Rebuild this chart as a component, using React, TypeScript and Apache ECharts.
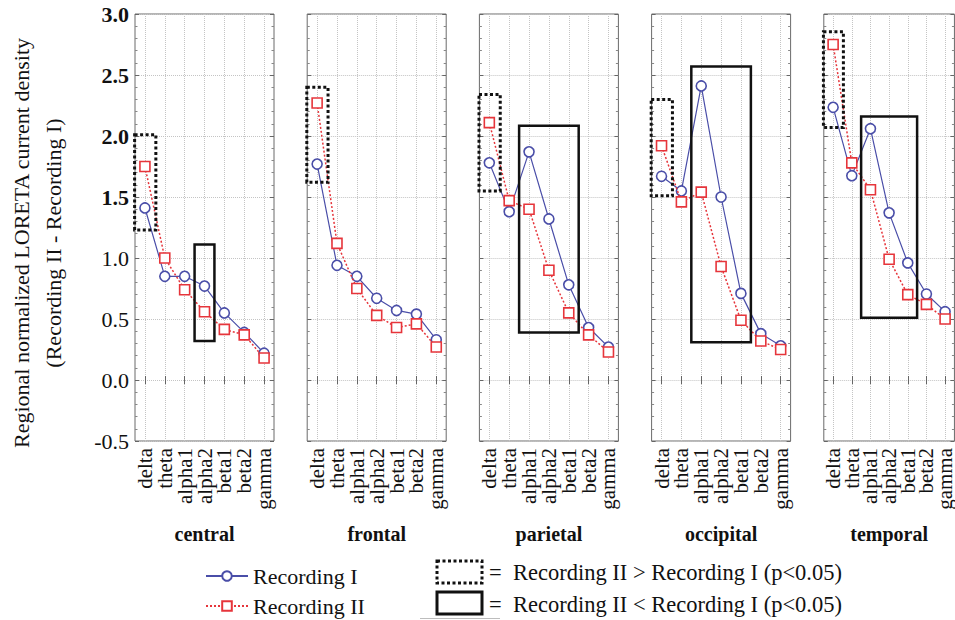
import React, { useEffect, useRef } from 'react';
import * as echarts from 'echarts';

const bands = ['delta', 'theta', 'alpha1', 'alpha2', 'beta1', 'beta2', 'gamma'];
const regions = ['central', 'frontal', 'parietal', 'occipital', 'temporal'];
const yTicks = [-0.5, 0, 0.5, 1.0, 1.5, 2.0, 2.5, 3.0];

// one row per region, one value per band
const recordingI = [
  [1.41, 0.85, 0.85, 0.77, 0.55, 0.39, 0.22],
  [1.77, 0.94, 0.85, 0.67, 0.57, 0.54, 0.33],
  [1.78, 1.38, 1.87, 1.32, 0.78, 0.43, 0.27],
  [1.67, 1.55, 2.41, 1.5, 0.71, 0.38, 0.28],
  [2.235, 1.675, 2.06, 1.37, 0.96, 0.705, 0.56],
];
const recordingII = [
  [1.75, 1.0, 0.74, 0.56, 0.415, 0.37, 0.18],
  [2.27, 1.12, 0.75, 0.53, 0.43, 0.46, 0.27],
  [2.11, 1.47, 1.4, 0.9, 0.55, 0.37, 0.23],
  [1.92, 1.46, 1.54, 0.93, 0.49, 0.32, 0.25],
  [2.75, 1.78, 1.56, 0.99, 0.7, 0.62, 0.5],
];

// significance boxes: [region, first band, last band, low, high]
const increaseBoxes = [
  [0, 0, 0, 1.23, 2.01],
  [1, 0, 0, 1.62, 2.4],
  [2, 0, 0, 1.55, 2.34],
  [3, 0, 0, 1.51, 2.3],
  [4, 0, 0, 2.07, 2.855],
];
const decreaseBoxes = [
  [0, 3, 3, 0.32, 1.11],
  [2, 2, 4, 0.39, 2.085],
  [3, 2, 4, 0.31, 2.57],
  [4, 2, 4, 0.51, 2.16],
];

const SERIF = "'Liberation Serif', 'Times New Roman', serif";
const BLUE = '#4a4ea8';
const RED = '#e6353b';

export default function App() {
  const ref = useRef<HTMLDivElement>(null);

  useEffect(() => {
    if (!ref.current) return;
    const chart = echarts.init(ref.current, null, { renderer: 'svg' });
    const yMin = yTicks[0];
    const yMax = yTicks[yTicks.length - 1];
    const yStep = yTicks[1] - yTicks[0];

    const grids: any[] = [];
    const xAxes: any[] = [];
    const yAxes: any[] = [];
    const series: any[] = [];

    regions.forEach((region, i) => {
      grids.push({
        left: 135 + i * 172.2,
        top: 14,
        width: 139,
        height: 427,
        show: true,
        borderColor: '#6a6a6a',
        borderWidth: 1,
        backgroundColor: 'transparent',
      });
      xAxes.push({
        type: 'category',
        gridIndex: i,
        position: 'bottom',
        data: bands,
        boundaryGap: true,
        axisLine: { show: false },
        axisTick: { show: true, inside: true, length: 4, alignWithLabel: true, interval: 0, lineStyle: { color: '#666' } },
        axisLabel: {
          interval: 0,
          rotate: 90,
          margin: 7,
          fontSize: 21,
          fontFamily: SERIF,
          color: '#111',
        },
        splitLine: {
          show: true,
          interval: 0,
          alignWithLabel: true,
          lineStyle: { type: 'dotted', color: '#c4c4c4', width: 1 },
        },
        name: region,
        nameLocation: 'middle',
        nameGap: 83,
        nameTextStyle: { fontSize: 20, fontWeight: 'bold', fontFamily: SERIF, color: '#111' },
      });
      xAxes.push({
        type: 'category',
        gridIndex: i,
        position: 'top',
        data: bands,
        boundaryGap: true,
        axisLine: { show: false },
        axisTick: { show: true, inside: true, length: 4, alignWithLabel: true, interval: 0, lineStyle: { color: '#666' } },
        axisLabel: { show: false },
        splitLine: { show: false },
      });
      yAxes.push({
        type: 'value',
        gridIndex: i,
        position: 'left',
        min: yMin,
        max: yMax,
        interval: yStep,
        axisLine: { show: false },
        axisTick: { show: true, inside: true, length: 4, lineStyle: { color: '#666' } },
        minorTick: { show: true, splitNumber: 5, length: 2.5, lineStyle: { color: '#888' } },
        axisLabel: {
          show: i === 0,
          margin: 6,
          fontSize: 22,
          fontFamily: SERIF,
          color: '#111',
          formatter: (v: number) => (v >= 1.5 ? `{b|${v.toFixed(1)}}` : v.toFixed(1)),
          rich: { b: { fontSize: 22, fontWeight: 'bold', fontFamily: SERIF, color: '#111' } },
        },
        splitLine: { show: true, lineStyle: { type: 'dotted', color: '#c4c4c4', width: 1 } },
      });
      yAxes.push({
        type: 'value',
        gridIndex: i,
        position: 'right',
        min: yMin,
        max: yMax,
        interval: yStep,
        axisLine: { show: false },
        axisTick: { show: true, inside: true, length: 4, lineStyle: { color: '#666' } },
        minorTick: { show: true, splitNumber: 5, length: 2.5, lineStyle: { color: '#888' } },
        axisLabel: { show: false },
        splitLine: { show: false },
      });

      const xi = i * 2;
      const yi = i * 2;
      series.push({
        name: 'Recording I',
        type: 'line',
        xAxisIndex: xi,
        yAxisIndex: yi,
        data: recordingI[i],
        symbol: 'circle',
        symbolSize: 10,
        lineStyle: { color: BLUE, width: 1.2, type: 'solid' },
        itemStyle: { color: '#fff', borderColor: BLUE, borderWidth: 1.6 },
        z: 3,
      });
      series.push({
        name: 'Recording II',
        type: 'line',
        xAxisIndex: xi,
        yAxisIndex: yi,
        data: recordingII[i],
        symbol: 'rect',
        symbolSize: 10,
        lineStyle: { color: RED, width: 1.5, type: [2, 2] },
        itemStyle: { color: '#fff', borderColor: RED, borderWidth: 1.6 },
        z: 4,
      });
      const boxData: any[] = [];
      increaseBoxes.filter((b) => b[0] === i).forEach((b) => {
        boxData.push([b[1], b[2], b[3], b[4], 1]);
      });
      decreaseBoxes.filter((b) => b[0] === i).forEach((b) => {
        boxData.push([b[1], b[2], b[3], b[4], 0]);
      });
      series.push({
        name: 'significance',
        type: 'custom',
        xAxisIndex: xi,
        yAxisIndex: yi,
        silent: true,
        clip: false,
        z: 5,
        encode: { x: [0, 1], y: [2, 3] },
        data: boxData,
        renderItem: (_params: any, api: any) => {
          const dotted = api.value(4) === 1;
          const band = api.size([1, 0])[0];
          const a = api.coord([api.value(0), api.value(3)]);
          const b = api.coord([api.value(1), api.value(2)]);
          const x0 = a[0] - band * (dotted ? 0.52 : 0.5);
          const x1 = b[0] + band * (dotted ? 0.55 : 0.5);
          return {
            type: 'rect',
            shape: { x: x0, y: a[1], width: x1 - x0, height: b[1] - a[1] },
            style: {
              fill: 'none',
              stroke: '#111',
              lineWidth: dotted ? 3 : 2.5,
              lineDash: dotted ? [3, 2.5] : null,
            },
          };
        },
      });
    });

    const legendText = { fontSize: 22, fontFamily: SERIF, color: '#111' };

    chart.setOption({
      animation: false,
      backgroundColor: '#fff',
      grid: grids,
      xAxis: xAxes,
      yAxis: yAxes,
      series,
      legend: [
        {
          data: ['Recording I'],
          left: 205,
          top: 565,
          itemWidth: 42,
          itemHeight: 12,
          padding: 0,
          textStyle: legendText,
        },
        {
          data: ['Recording II'],
          left: 205,
          top: 595,
          itemWidth: 42,
          itemHeight: 12,
          padding: 0,
          textStyle: legendText,
        },
      ],
      graphic: [
        {
          type: 'text',
          x: 37,
          y: 243,
          rotation: Math.PI / 2,
          style: {
            text: 'Regional normalized LORETA current density\n(Recording II - Recording I)',
            font: `22px ${SERIF}`,
            fill: '#111',
            align: 'center',
            verticalAlign: 'middle',
            lineHeight: 32,
          },
        },
        {
          type: 'rect',
          shape: { x: 437, y: 561, width: 45, height: 22 },
          style: { fill: 'none', stroke: '#111', lineWidth: 3, lineDash: [3, 2.5] },
        },
        {
          type: 'rect',
          shape: { x: 437, y: 592, width: 45, height: 22 },
          style: { fill: 'none', stroke: '#111', lineWidth: 3 },
        },
        {
          type: 'line',
          shape: { x1: 420, y1: 618.5, x2: 500, y2: 618.5 },
          style: { stroke: '#bdbdbd', lineWidth: 1 },
        },
        {
          type: 'text',
          x: 489,
          y: 572,
          style: { text: '=  Recording II > Recording I (p<0.05)', font: `22.5px ${SERIF}`, fill: '#111', verticalAlign: 'middle' },
        },
        {
          type: 'text',
          x: 489,
          y: 604,
          style: { text: '=  Recording II < Recording I (p<0.05)', font: `22.5px ${SERIF}`, fill: '#111', verticalAlign: 'middle' },
        },
      ],
    });
    return () => chart.dispose();
  }, []);

  return (
    <div
      ref={ref}
      style={{ position: 'fixed', left: 0, top: 0, width: 955, height: 620, background: '#fff' }}
    />
  );
}
